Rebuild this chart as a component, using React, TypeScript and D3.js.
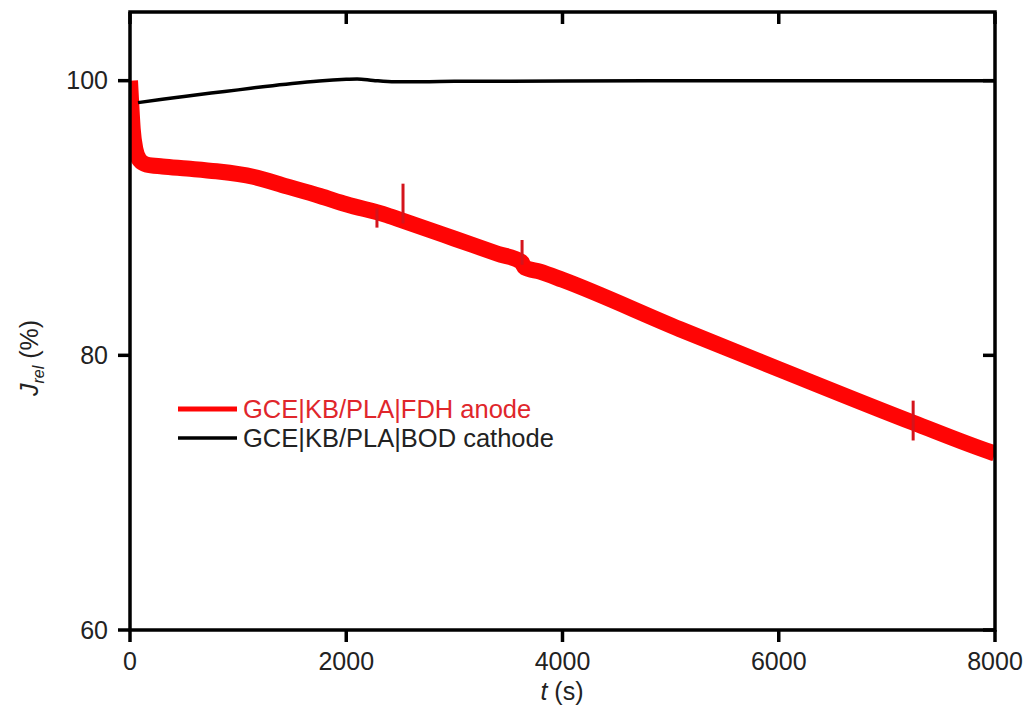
import React from "react";
import * as d3 from "d3";

// ---- data ----
const redTime = [0, 10, 25, 50, 90, 150, 300, 527, 800, 1138, 1450, 1757, 2000, 2377, 2525, 3000, 3400, 3620, 3650, 3792, 4000, 5087, 6000, 7243, 7981, 8000];
const redValue = [100, 98.5, 96.5, 95.0, 94.2, 93.9, 93.75, 93.6, 93.4, 93.0, 92.3, 91.6, 91.0, 90.2, 89.8, 88.5, 87.4, 86.8, 86.4, 86.1, 85.5, 81.9, 79.0, 75.1, 72.9, 72.85];

const spikeTime = [2284, 2525, 3626, 7243];
const spikeLow = [89.3, 89.6, 86.6, 73.8];
const spikeHigh = [90.7, 92.5, 88.4, 76.7];

const blackTime = [74, 300, 500, 750, 1000, 1250, 1500, 1750, 2000, 2100, 2250, 2450, 2700, 3000, 4000, 5000, 6000, 7000, 8000];
const blackValue = [98.4, 98.65, 98.85, 99.1, 99.33, 99.58, 99.8, 99.98, 100.1, 100.13, 100.02, 99.92, 99.92, 99.95, 99.97, 100, 100, 100, 100];

const xTicks = [0, 2000, 4000, 6000, 8000];
const yTicks = [60, 80, 100];

const seriesNames = ["GCE|KB/PLA|FDH anode", "GCE|KB/PLA|BOD cathode"];

const W = 1028;
const H = 708;
const M = { left: 130, right: 995, top: 12, bottom: 630 };
const FONT = "'Liberation Sans', Arial, Helvetica, sans-serif";

export default function App() {
  const x = d3.scaleLinear().domain([0, 8000]).range([M.left, M.right]);
  const y = d3.scaleLinear().domain([60, 105]).range([M.bottom, M.top]);

  const redPts: [number, number][] = redTime.map((t, i) => [t, redValue[i]]);
  const blackPts: [number, number][] = blackTime.map((t, i) => [t, blackValue[i]]);

  const line = d3
    .line<[number, number]>()
    .x((d) => x(d[0]))
    .y((d) => y(d[1]))
    .curve(d3.curveMonotoneX);

  const tickLen = 12;

  return (
    <svg
      width={W}
      height={H}
      style={{ position: "absolute", left: 0, top: 0, background: "#fff" }}
      fontFamily={FONT}
    >
      <defs>
        <clipPath id="plotClip">
          <rect x={M.left} y={M.top} width={M.right - M.left} height={M.bottom - M.top} />
        </clipPath>
      </defs>

      <g clipPath="url(#plotClip)">
        <path d={line(redPts) ?? ""} fill="none" stroke="#ff0505" strokeWidth={16} strokeLinejoin="round" />
        {spikeTime.map((t, i) => (
          <line
            key={i}
            x1={x(t)}
            x2={x(t)}
            y1={y(spikeLow[i])}
            y2={y(spikeHigh[i])}
            stroke="#d4141c"
            strokeWidth={3}
          />
        ))}
        <path d={line(blackPts) ?? ""} fill="none" stroke="#000" strokeWidth={3.5} strokeLinejoin="round" />
      </g>

      {/* frame */}
      <rect
        x={M.left}
        y={M.top}
        width={M.right - M.left}
        height={M.bottom - M.top}
        fill="none"
        stroke="#000"
        strokeWidth={3.5}
      />

      {/* x ticks: bottom outward, top inward */}
      {xTicks.map((t) => (
        <g key={"x" + t}>
          <line x1={x(t)} x2={x(t)} y1={M.bottom} y2={M.bottom + tickLen} stroke="#000" strokeWidth={3.5} />
          <line x1={x(t)} x2={x(t)} y1={M.top} y2={M.top + tickLen} stroke="#000" strokeWidth={3.5} />
          <text x={x(t)} y={670} textAnchor="middle" fontSize={25} fill="#222">
            {t}
          </text>
        </g>
      ))}

      {/* y ticks: left outward, right inward */}
      {yTicks.map((v) => (
        <g key={"y" + v}>
          <line x1={M.left - tickLen} x2={M.left} y1={y(v)} y2={y(v)} stroke="#000" strokeWidth={3.5} />
          <line x1={M.right - tickLen} x2={M.right} y1={y(v)} y2={y(v)} stroke="#000" strokeWidth={3.5} />
          <text x={108} y={y(v)} dy="0.35em" textAnchor="end" fontSize={25} fill="#222">
            {v}
          </text>
        </g>
      ))}

      {/* axis titles */}
      <text x={562} y={700} textAnchor="middle" fontSize={25} fill="#222">
        <tspan fontStyle="italic">t</tspan>
        <tspan> (s)</tspan>
      </text>
      <text transform="translate(38,358) rotate(-90)" textAnchor="middle" fontSize={25} fill="#222">
        <tspan fontStyle="italic">J</tspan>
        <tspan fontStyle="italic" fontSize={16} dy={6}>rel</tspan>
        <tspan dy={-6}> (%)</tspan>
      </text>

      {/* legend */}
      <line x1={178} x2={237} y1={409} y2={409} stroke="#ff0505" strokeWidth={5} />
      <text x={243} y={409} dy="0.35em" fontSize={25.5} fill="#e0262b">
        {seriesNames[0]}
      </text>
      <line x1={178} x2={237} y1={438} y2={438} stroke="#000" strokeWidth={3.5} />
      <text x={243} y={438} dy="0.35em" fontSize={25.5} fill="#222">
        {seriesNames[1]}
      </text>
    </svg>
  );
}
